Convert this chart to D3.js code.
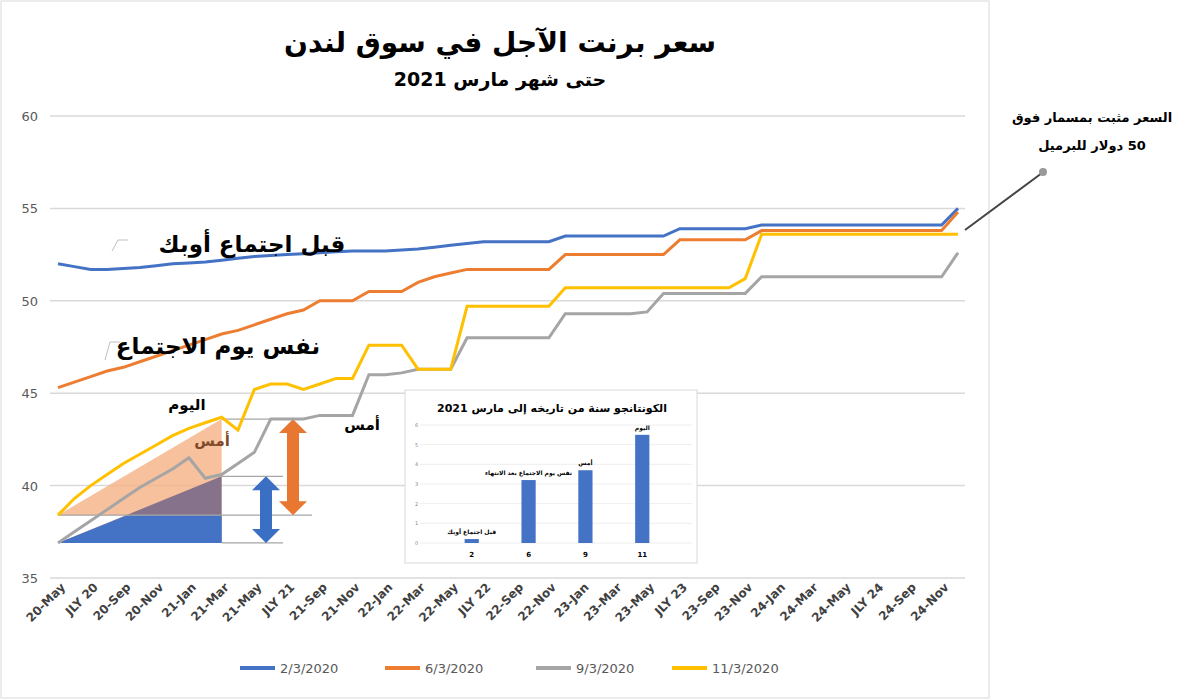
<!DOCTYPE html><html><head><meta charset="utf-8"><script src="https://cdn.jsdelivr.net/npm/d3@7"></script>
<style>body{margin:0;background:#fff}</style></head><body><svg id="c" width="1200" height="700"></svg><script>
const months=[];(function(){const m=["Jan","Feb","Mar","Apr","May","Jun","Jul","Aug","Sep","Oct","Nov","Dec"];let y=20,k=4;for(let i=0;i<56;i++){months.push(m[k]==="Jul"?"JLY "+y:y+"-"+m[k]);k++;if(k===12){k=0;y++;}}})();
const tickLabels=months.filter((d,i)=>i%2===0);
const blue=[52.0,51.85,51.7,51.7,51.75,51.8,51.9,52.0,52.05,52.1,52.2,52.3,52.4,52.45,52.5,52.55,52.6,52.65,52.7,52.7,52.7,52.75,52.8,52.9,53.0,53.1,53.2,53.2,53.2,53.2,53.2,53.5,53.5,53.5,53.5,53.5,53.5,53.5,53.9,53.9,53.9,53.9,53.9,54.1,54.1,54.1,54.1,54.1,54.1,54.1,54.1,54.1,54.1,54.1,54.1,55.0];
const orange=[45.3,45.6,45.9,46.2,46.4,46.7,47.0,47.3,47.6,47.9,48.2,48.4,48.7,49.0,49.3,49.5,50.0,50.0,50.0,50.5,50.5,50.5,51.0,51.3,51.5,51.7,51.7,51.7,51.7,51.7,51.7,52.5,52.5,52.5,52.5,52.5,52.5,52.5,53.3,53.3,53.3,53.3,53.3,53.8,53.8,53.8,53.8,53.8,53.8,53.8,53.8,53.8,53.8,53.8,53.8,54.8];
const gray=[36.9,37.5,38.1,38.7,39.3,39.9,40.4,40.9,41.5,40.4,40.6,41.2,41.8,43.6,43.6,43.6,43.8,43.8,43.8,46.0,46.0,46.1,46.3,46.3,46.3,48.0,48.0,48.0,48.0,48.0,48.0,49.3,49.3,49.3,49.3,49.3,49.4,50.4,50.4,50.4,50.4,50.4,50.4,51.3,51.3,51.3,51.3,51.3,51.3,51.3,51.3,51.3,51.3,51.3,51.3,52.6];
const yellow=[38.4,39.3,40.0,40.6,41.2,41.7,42.2,42.7,43.1,43.4,43.7,43.0,45.2,45.5,45.5,45.2,45.5,45.8,45.8,47.6,47.6,47.6,46.3,46.3,46.3,49.7,49.7,49.7,49.7,49.7,49.7,50.7,50.7,50.7,50.7,50.7,50.7,50.7,50.7,50.7,50.7,50.7,51.2,53.6,53.6,53.6,53.6,53.6,53.6,53.6,53.6,53.6,53.6,53.6,53.6,53.6];
const seriesNames=["2/3/2020","6/3/2020","9/3/2020","11/3/2020"];
const colors=["#4472C4","#ED7D31","#A5A5A5","#FFC000"];
const yTicks=[35,40,45,50,55,60];
const insetCats=["2","6","9","11"];const insetVals=[0.2,3.2,3.7,5.5];
const insetLabels=["قبل اجتماع أوبك","نفس يوم الاجتماع بعد الانتهاء","أمس","اليوم"];
const svg=d3.select("#c");const F="'DejaVu Sans',Arial,sans-serif";
svg.append("rect").attr("x",1).attr("y",1).attr("width",988).attr("height",697).attr("fill","none").attr("stroke","#d9d9d9");
const x=d3.scalePoint().domain(months).range([58,958]);
const y=d3.scaleLinear().domain([35,60]).range([578,116]);
svg.append("g").selectAll("line").data(yTicks).join("line").attr("x1",50).attr("x2",965).attr("y1",d=>y(d)).attr("y2",d=>y(d)).attr("stroke","#d9d9d9").attr("stroke-width",1.5);
svg.append("g").selectAll("text").data(yTicks).join("text").attr("x",38).attr("y",d=>y(d)+5).attr("text-anchor","end").attr("font-family",F).attr("font-size",13).attr("fill","#595959").text(d=>d);
svg.append("g").selectAll("text").data(tickLabels).join("text").attr("transform",d=>`translate(${x(d)+8},${588}) rotate(-45)`).attr("text-anchor","end").attr("font-family",F).attr("font-size",12).attr("font-weight","bold").attr("fill","#404040").text(d=>d);
const X0=x(months[0]),X1=x(months[10]);
const g=svg.append("g");
g.append("polygon").attr("points",[[X0,y(38.4)],[X1,y(43.6)],[X1,y(38.4)]].join(" ")).attr("fill","#F4B183").attr("opacity",0.8);
g.append("polygon").attr("points",[[X0,y(36.9)],[X1,y(40.5)],[X1,y(36.9)]].join(" ")).attr("fill","#7a6a8a").attr("opacity",0.9);
g.append("polygon").attr("points",[[X0,y(36.9)],[X0+70,y(38.4)],[X1,y(38.4)],[X1,y(36.9)]].join(" ")).attr("fill","#4472C4");
[[X1,283,40.5],[X0,312,38.4],[X1,283,36.9],[X1,300,43.6]].forEach(a=>g.append("line").attr("x1",a[0]).attr("x2",a[1]).attr("y1",y(a[2])).attr("y2",y(a[2])).attr("stroke","#a6a6a6").attr("stroke-width",1.2));
function darrow(cx,v1,v2,col){const t=y(v2),b=y(v1),w=6,h=14;g.append("polygon").attr("points",[[cx,t],[cx+14,t+h],[cx+w,t+h],[cx+w,b-h],[cx+14,b-h],[cx,b],[cx-14,b-h],[cx-w,b-h],[cx-w,t+h],[cx-14,t+h]].join(" ")).attr("fill",col);}
darrow(266,36.9,40.5,"#3A6FC4");darrow(293,38.4,43.6,"#E87731");
const line=d3.line().x((d,i)=>x(months[i])).y(d=>y(d));
[blue,orange,gray,yellow].forEach((s,i)=>svg.append("path").datum(s).attr("d",line).attr("fill","none").attr("stroke",colors[i]).attr("stroke-width",3));
function T(t,xx,yy,s,col,anchor){return svg.append("text").attr("x",xx).attr("y",yy).attr("font-family",F).attr("font-weight","bold").attr("font-size",s).attr("fill",col||"#000").attr("text-anchor",anchor||"middle").attr("direction","rtl").text(t);}
T("سعر برنت الآجل في سوق لندن",500,52,28);
T("حتى شهر مارس 2021",500,86,19);
T("قبل اجتماع أوبك",252,252,23);
T("نفس يوم الاجتماع",218,354,23);
T("اليوم",187,410,15);T("أمس",212,446,15,"#7f4a2a");T("أمس",362,430,15);
svg.append("path").attr("d","M112,251 L118,240 L128,240").attr("stroke","#bfbfbf").attr("fill","none");
svg.append("path").attr("d","M105,360 L110,342 L120,342").attr("stroke","#bfbfbf").attr("fill","none");
T("السعر مثبت بمسمار فوق",1092,122,13);T("50 دولار للبرميل",1092,150,13);
svg.append("line").attr("x1",965).attr("y1",230).attr("x2",1042).attr("y2",173).attr("stroke","#444").attr("stroke-width",2);
svg.append("circle").attr("cx",1043).attr("cy",172).attr("r",4).attr("fill","#999");
const lx=[240,385,536,672];
seriesNames.forEach((n,i)=>{svg.append("line").attr("x1",lx[i]).attr("x2",lx[i]+35).attr("y1",668).attr("y2",668).attr("stroke",colors[i]).attr("stroke-width",4);
svg.append("text").attr("x",lx[i]+40).attr("y",673).attr("font-family",F).attr("font-size",13).attr("fill","#595959").text(n);});
const ig=svg.append("g");
ig.append("rect").attr("x",405).attr("y",390).attr("width",292).attr("height",173).attr("fill","#fff").attr("stroke","#d9d9d9");
T("الكونتانجو سنة من تاريخه إلى مارس 2021",552,412,11);
const ix=d3.scaleBand().domain(insetCats).range([422,692]).padding(0.75);
const iy=d3.scaleLinear().domain([0,6]).range([543,425]);
ig.selectAll("line.g").data(d3.range(0,7)).join("line").attr("x1",420).attr("x2",692).attr("y1",d=>iy(d)).attr("y2",d=>iy(d)).attr("stroke","#eee");
ig.selectAll("text.t").data(d3.range(0,7)).join("text").attr("x",415).attr("y",d=>iy(d)+2).attr("font-size",5).attr("fill","#888").attr("font-family",F).text(d=>d);
ig.selectAll("rect.b").data(insetVals).join("rect").attr("x",(d,i)=>ix(insetCats[i])).attr("y",d=>iy(d)).attr("width",ix.bandwidth()).attr("height",d=>iy(0)-iy(d)).attr("fill","#4472C4");
ig.selectAll("text.c").data(insetCats).join("text").attr("x",d=>ix(d)+ix.bandwidth()/2).attr("y",557).attr("text-anchor","middle").attr("font-size",7).attr("font-weight","bold").attr("font-family",F).text(d=>d);
insetLabels.forEach((l,i)=>T(l,ix(insetCats[i])+ix.bandwidth()/2,iy(insetVals[i])-5,6));
</script></body></html>
